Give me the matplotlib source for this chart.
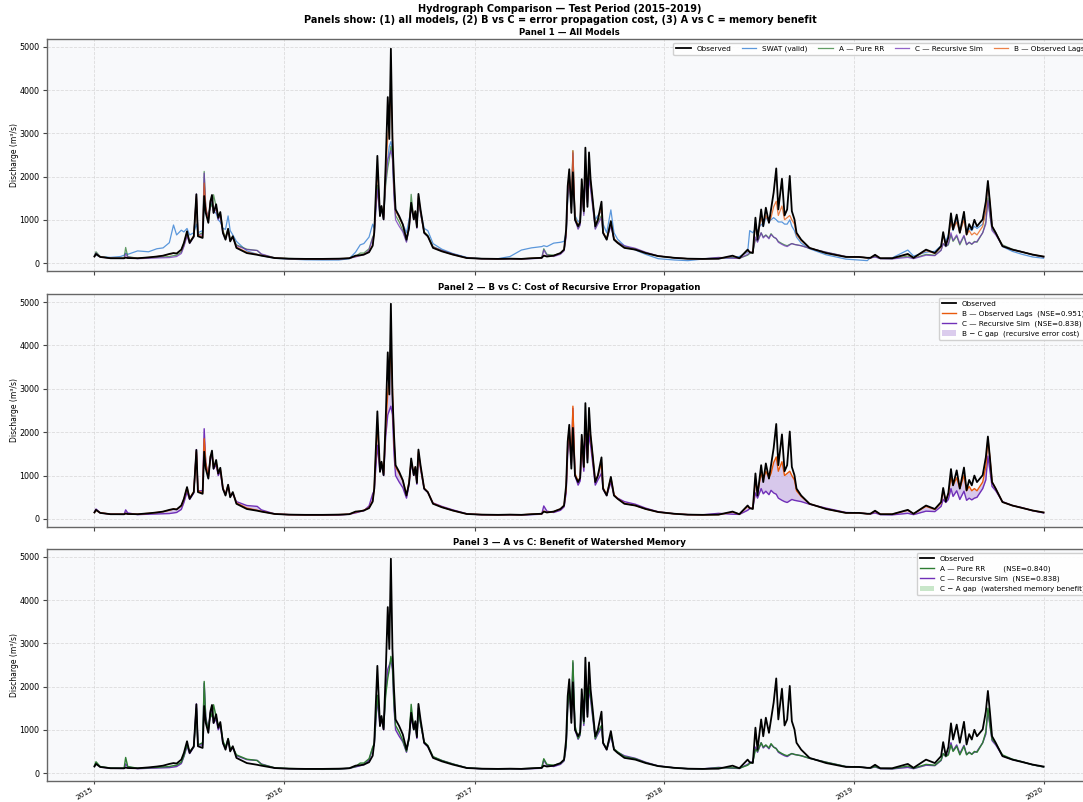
import matplotlib
matplotlib.use("Agg")
import matplotlib.pyplot as plt
import matplotlib.dates as mdates
import pandas as pd
import numpy as np

plt.rcParams['font.family'] = ['DejaVu Sans']

dates = [
    "2015-01-01", "2015-01-04", "2015-01-12", "2015-02-01", "2015-02-20", "2015-02-27", "2015-03-02", "2015-03-06",
    "2015-03-25", "2015-04-15", "2015-05-01", "2015-05-13", "2015-05-25", "2015-06-02", "2015-06-08", "2015-06-17",
    "2015-06-22", "2015-06-28", "2015-07-03", "2015-07-11", "2015-07-16", "2015-07-19", "2015-07-28", "2015-07-31",
    "2015-08-03", "2015-08-08", "2015-08-12", "2015-08-15", "2015-08-18", "2015-08-23", "2015-08-27", "2015-08-31",
    "2015-09-05", "2015-09-10", "2015-09-15", "2015-09-19", "2015-09-24", "2015-10-01", "2015-10-21", "2015-11-10",
    "2015-11-18", "2015-12-14",
    "2016-01-10", "2016-02-10", "2016-03-15", "2016-04-15", "2016-05-05", "2016-05-17", "2016-05-26", "2016-06-02",
    "2016-06-12", "2016-06-19", "2016-06-22", "2016-06-28", "2016-07-03", "2016-07-06", "2016-07-10", "2016-07-14",
    "2016-07-18", "2016-07-21", "2016-07-24", "2016-07-27", "2016-07-30", "2016-08-02", "2016-08-09", "2016-08-16",
    "2016-08-23", "2016-08-28", "2016-09-01", "2016-09-06", "2016-09-09", "2016-09-12", "2016-09-15", "2016-09-19",
    "2016-09-26", "2016-10-03", "2016-10-13", "2016-10-30", "2016-11-20", "2016-12-17",
    "2017-01-15", "2017-02-15", "2017-03-10", "2017-04-01", "2017-04-20", "2017-05-10", "2017-05-14", "2017-05-20",
    "2017-06-02", "2017-06-15", "2017-06-22", "2017-06-26", "2017-06-29", "2017-07-02", "2017-07-06", "2017-07-09",
    "2017-07-13", "2017-07-19", "2017-07-23", "2017-07-26", "2017-07-30", "2017-08-02", "2017-08-06", "2017-08-09",
    "2017-08-12", "2017-08-16", "2017-08-21", "2017-08-26", "2017-09-02", "2017-09-05", "2017-09-12", "2017-09-20",
    "2017-09-26", "2017-10-03", "2017-10-16", "2017-11-06", "2017-11-26", "2017-12-20",
    "2018-01-20", "2018-02-15", "2018-03-15", "2018-04-15", "2018-05-12", "2018-05-25", "2018-06-10", "2018-06-14",
    "2018-06-20", "2018-06-25", "2018-06-29", "2018-07-06", "2018-07-10", "2018-07-15", "2018-07-21", "2018-07-25",
    "2018-07-30", "2018-08-04", "2018-08-08", "2018-08-15", "2018-08-20", "2018-08-25", "2018-08-30", "2018-09-03",
    "2018-09-08", "2018-09-12", "2018-09-21", "2018-10-07", "2018-11-08", "2018-12-16",
    "2019-01-10", "2019-01-26", "2019-02-01", "2019-02-10", "2019-02-20", "2019-03-15", "2019-04-14", "2019-04-25",
    "2019-05-19", "2019-06-05", "2019-06-17", "2019-06-21", "2019-06-26", "2019-07-01", "2019-07-06", "2019-07-10",
    "2019-07-17", "2019-07-23", "2019-07-31", "2019-08-05", "2019-08-10", "2019-08-15", "2019-08-20", "2019-08-25",
    "2019-09-05", "2019-09-11", "2019-09-15", "2019-09-19", "2019-09-23", "2019-09-30", "2019-10-13", "2019-11-01",
    "2019-11-20", "2019-12-10", "2019-12-31",
]

observed = [
    150, 210, 140, 110, 110, 110, 125, 115, 110, 130, 150, 170, 210, 230, 220, 310,
    465, 735, 465, 620, 1590, 620, 580, 1550, 1160, 930, 1430, 1575, 1160, 1360, 1045, 1180,
    700, 540, 790, 500, 620, 350, 230, 190, 170, 115,
    100, 95, 95, 100, 110, 170, 180, 195, 250, 400, 700, 2480, 1085, 1320, 1010, 2290,
    3840, 2870, 4960, 2870, 1940, 1240, 1085, 890, 540, 830, 1395, 1010, 1200, 830, 1600, 1240,
    700, 620, 350, 270, 195, 115,
    100, 95, 100, 95, 110, 120, 170, 150, 170, 230, 310, 775, 1780, 2170, 1160, 2100,
    1000, 850, 950, 1940, 1200, 2670, 1300, 2560, 1940, 1470, 850, 1000, 1420, 700, 540, 970,
    540, 465, 350, 310, 230, 160,
    120, 100, 95, 100, 170, 110, 310, 250, 230, 1050, 540, 1240, 850, 1280, 930, 1240,
    1630, 2190, 1240, 1950, 1100, 1240, 2015, 1200, 1010, 700, 540, 350, 230, 140,
    140, 120, 120, 190, 110, 110, 210, 120, 310, 230, 390, 715, 400, 600, 1150, 775,
    1120, 700, 1185, 660, 900, 775, 1000, 850, 1010, 1420, 1900, 1395, 850, 700, 390, 310,
    255, 195, 150,
]

swat = [
    160, 180, 150, 130, 150, 180, 230, 200, 280, 260, 330, 350, 470, 880, 650, 760,
    720, 800, 650, 700, 900, 700, 750, 1300, 1200, 1100, 1300, 1400, 1200, 1150, 1000, 950,
    800, 780, 1090, 750, 650, 500, 280, 200, 170, 110,
    90, 75, 70, 70, 100, 250, 420, 450, 600, 900, 800, 1800, 1100, 1250, 1100, 2000,
    2400, 2700, 2810, 2600, 1700, 1250, 1050, 900, 700, 1000, 1250, 1100, 1150, 900, 1350, 1200,
    800, 750, 450, 320, 220, 130,
    100, 100, 150, 300, 350, 380, 400, 380, 460, 480, 500, 700, 1500, 2000, 1300, 2000,
    1100, 950, 1000, 1600, 1300, 2200, 1400, 2100, 1800, 1400, 1000, 1100, 1200, 900, 700, 1230,
    700, 550, 400, 300, 200, 100,
    70, 55, 90, 100, 130, 150, 250, 750, 700, 800, 750, 900, 850, 1050, 950, 1000,
    1050, 1000, 950, 950, 900, 900, 1000, 850, 750, 600, 460, 330, 190, 90,
    70, 55, 120, 150, 110, 120, 300, 160, 250, 270, 400, 650, 500, 650, 1000, 750,
    1000, 700, 1050, 700, 800, 750, 850, 800, 900, 1200, 1800, 1300, 850, 700, 380, 270,
    200, 140, 110,
]

model_a = [
    170, 260, 150, 115, 110, 110, 360, 150, 110, 120, 130, 140, 150, 170, 180, 250,
    400, 650, 500, 600, 1500, 650, 700, 2120, 1250, 1000, 1400, 1300, 1580, 1300, 1100, 1150,
    750, 600, 800, 560, 600, 420, 320, 290, 200, 120,
    105, 95, 90, 95, 110, 150, 230, 230, 330, 600, 680, 1800, 1200, 1250, 1050, 1800,
    2200, 2400, 2700, 2500, 1600, 1100, 950, 750, 500, 800, 1590, 1000, 1150, 850, 1450, 1150,
    720, 640, 380, 290, 210, 120,
    100, 95, 100, 100, 105, 120, 330, 200, 180, 220, 300, 650, 1500, 2000, 1400, 2600,
    1100, 800, 900, 1700, 1150, 2000, 1400, 2000, 1800, 1350, 800, 950, 1100, 700, 560, 900,
    560, 490, 380, 330, 240, 160,
    120, 100, 95, 120, 120, 110, 180, 220, 250, 550, 500, 700, 600, 650, 580, 680,
    600, 560, 500, 450, 420, 400, 430, 450, 430, 420, 400, 340, 250, 150,
    140, 120, 115, 150, 105, 100, 160, 110, 200, 180, 300, 450, 380, 420, 650, 500,
    620, 420, 620, 420, 480, 430, 500, 480, 700, 950, 1500, 1100, 780, 680, 420, 320,
    260, 190, 140,
]

model_b = [
    150, 200, 145, 110, 110, 110, 130, 115, 110, 130, 150, 170, 200, 230, 220, 300,
    450, 720, 480, 630, 1550, 650, 600, 1850, 1300, 950, 1450, 1500, 1200, 1300, 1050, 1150,
    720, 560, 780, 520, 600, 370, 250, 200, 175, 115,
    100, 95, 95, 100, 110, 160, 180, 200, 260, 420, 700, 2200, 1150, 1300, 1050, 2100,
    2900, 3300, 4000, 3000, 1800, 1200, 1050, 880, 560, 850, 1350, 1050, 1200, 850, 1550, 1200,
    710, 620, 360, 275, 195, 115,
    100, 95, 100, 95, 110, 120, 180, 150, 170, 230, 310, 700, 1700, 2100, 1300, 2600,
    1050, 870, 950, 1900, 1200, 2300, 1400, 2300, 1900, 1450, 870, 1000, 1300, 720, 560, 950,
    560, 470, 360, 310, 230, 160,
    120, 100, 95, 100, 160, 110, 290, 250, 240, 900, 600, 1050, 900, 1100, 950, 1050,
    1300, 1430, 1100, 1320, 1000, 1050, 1100, 1000, 900, 650, 520, 350, 230, 140,
    140, 120, 120, 180, 110, 110, 200, 120, 290, 220, 370, 650, 420, 580, 950, 780,
    950, 700, 1000, 650, 750, 650, 700, 650, 850, 1200, 1850, 1400, 850, 700, 390, 310,
    255, 195, 150,
]

model_c = [
    160, 230, 140, 110, 105, 105, 210, 140, 100, 110, 115, 120, 125, 140, 150, 220,
    380, 620, 450, 600, 1600, 650, 650, 2080, 1300, 980, 1400, 1450, 1150, 1250, 1000, 1100,
    680, 580, 760, 520, 580, 400, 310, 290, 210, 115,
    100, 90, 85, 90, 110, 140, 170, 190, 300, 580, 650, 1700, 1100, 1250, 1000, 1900,
    2400, 2500, 2600, 2400, 1500, 1000, 850, 720, 480, 800, 1300, 1000, 1150, 800, 1500, 1150,
    690, 610, 370, 290, 210, 120,
    95, 90, 95, 90, 100, 110, 300, 180, 150, 200, 280, 600, 1500, 1950, 1250, 2550,
    1000, 780, 880, 1700, 1100, 2000, 1350, 1950, 1700, 1300, 780, 900, 1050, 680, 540, 850,
    550, 480, 400, 340, 250, 165,
    120, 100, 95, 130, 110, 105, 200, 240, 260, 600, 480, 700, 580, 640, 560, 660,
    600, 570, 480, 430, 400, 380, 420, 450, 430, 420, 400, 340, 250, 150,
    140, 120, 115, 140, 100, 95, 130, 100, 180, 170, 290, 450, 380, 450, 700, 520,
    650, 450, 640, 430, 480, 440, 480, 500, 700, 900, 1450, 1100, 750, 650, 400, 310,
    260, 190, 140,
]

nse_a = 0.840
nse_b = 0.951
nse_c = 0.838

t = pd.to_datetime(dates)
obs = np.array(observed, float)
sw = np.array(swat, float)
qa = np.array(model_a, float)
qb = np.array(model_b, float)
qc = np.array(model_c, float)

C_OBS = "black"
C_SWAT = "#3f86d6"
C_A = "#2e7d32"
C_B = "#e8590c"
C_C = "#7030b8"
FACE = "#f8f9fb"

W, H = 1083, 802
fig = plt.figure(figsize=(W / 100, H / 100), dpi=100)

left = 47 / W
width = (1091 - 47) / W
rows = [(39, 271), (294, 527), (549, 781)]
axes = []
for i, (top, bot) in enumerate(rows):
    ax = fig.add_axes([left, 1 - bot / H, width, (bot - top) / H],
                      sharex=axes[0] if axes else None)
    axes.append(ax)

for ax in axes:
    ax.set_facecolor(FACE)
    ax.grid(True, linestyle="--", linewidth=0.6, color="#d0d0d0", alpha=0.7)
    ax.set_axisbelow(True)
    for s in ax.spines.values():
        s.set_color("#666666")
        s.set_linewidth(1.0)
    ax.set_ylabel("Discharge (m³/s)", fontsize=5.5, labelpad=0.5)
    ax.tick_params(labelsize=5.8, length=3, color="#444444", pad=2.5)
    ax.set_yticks([0, 1000, 2000, 3000, 4000, 5000])
    ax.set_ylim(-185, 5185)

LEG = 5.2

# Panel 1
ax = axes[0]
ax.plot(t, obs, color=C_OBS, lw=1.3, label="Observed", zorder=6)
ax.plot(t, sw, color=C_SWAT, lw=0.9, alpha=0.85, label="SWAT (valid)", zorder=2)
ax.plot(t, qa, color=C_A, lw=0.9, alpha=0.75, label="A — Pure RR", zorder=3)
ax.plot(t, qc, color=C_C, lw=0.9, alpha=0.75, label="C — Recursive Sim", zorder=4)
ax.plot(t, qb, color=C_B, lw=0.9, alpha=0.75, label="B — Observed Lags", zorder=5)
ax.set_title("Panel 1 — All Models", fontsize=6.2, fontweight="bold", pad=3)
ax.legend(loc="upper right", ncol=5, fontsize=LEG, frameon=True, framealpha=0.9,
          handlelength=2.0, columnspacing=1.5, borderpad=0.4)

# Panel 2
ax = axes[1]
ax.fill_between(t, qb, qc, color="#9b6fcf", alpha=0.35, lw=0,
                label="B − C gap  (recursive error cost)", zorder=2)
ax.plot(t, obs, color=C_OBS, lw=1.3, label="Observed", zorder=6)
ax.plot(t, qb, color=C_B, lw=1.0, label=f"B — Observed Lags  (NSE={nse_b:.3f})", zorder=4)
ax.plot(t, qc, color=C_C, lw=1.0, label=f"C — Recursive Sim  (NSE={nse_c:.3f})", zorder=3)
ax.set_title("Panel 2 — B vs C: Cost of Recursive Error Propagation", fontsize=6.2,
             fontweight="bold", pad=3)
h, l = ax.get_legend_handles_labels()
order = [1, 2, 3, 0]
ax.legend([h[i] for i in order], [l[i] for i in order], loc="upper right",
          fontsize=LEG, framealpha=0.9)

# Panel 3
ax = axes[2]
ax.fill_between(t, qc, qa, color="#4caf50", alpha=0.3, lw=0,
                label="C − A gap  (watershed memory benefit)", zorder=2)
ax.plot(t, obs, color=C_OBS, lw=1.3, label="Observed", zorder=6)
ax.plot(t, qa, color=C_A, lw=1.0, label=f"A — Pure RR        (NSE={nse_a:.3f})", zorder=4)
ax.plot(t, qc, color=C_C, lw=1.0, label=f"C — Recursive Sim  (NSE={nse_c:.3f})", zorder=3)
ax.set_title("Panel 3 — A vs C: Benefit of Watershed Memory", fontsize=6.2,
             fontweight="bold", pad=3)
h, l = ax.get_legend_handles_labels()
ax.legend([h[i] for i in order], [l[i] for i in order], loc="upper right",
          fontsize=LEG, framealpha=0.9)

axes[2].xaxis.set_major_locator(mdates.YearLocator())
axes[2].xaxis.set_major_formatter(mdates.DateFormatter("%Y"))
axes[2].tick_params(axis="x", length=2.5, pad=1.0)
for ax in axes[:2]:
    plt.setp(ax.get_xticklabels(), visible=False)
for lab in axes[2].get_xticklabels():
    lab.set_rotation(30)
    lab.set_ha("right")
    lab.set_fontsize(5.3)

fig.suptitle("Hydrograph Comparison — Test Period (2015–2019)\n"
             "Panels show: (1) all models, (2) B vs C = error propagation cost, (3) A vs C = memory benefit",
             x=560 / W, y=0.995, fontsize=7.0, fontweight="bold", linespacing=1.1)

fig.savefig("out.png", dpi=100)
